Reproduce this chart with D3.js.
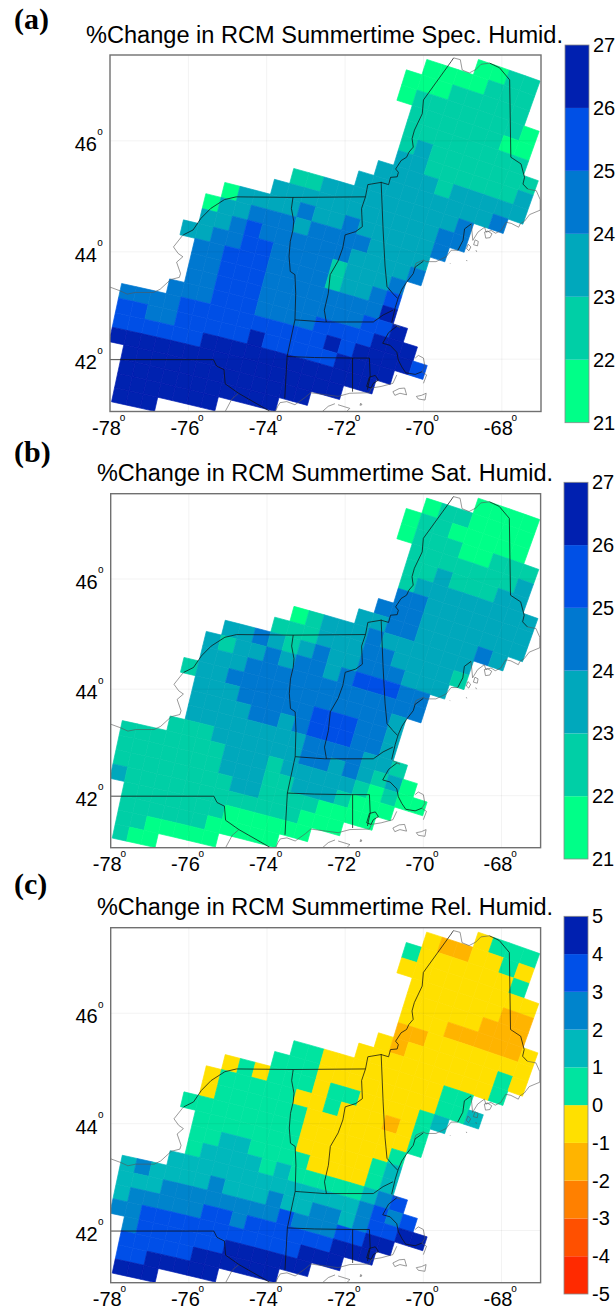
<!DOCTYPE html>
<html>
<head>
<meta charset="utf-8">
<script src="https://cdn.jsdelivr.net/npm/d3@7"></script>
<style>
  body { margin: 0; background: #fff; }
  text { font-family: "Liberation Sans", Arial, sans-serif; fill: #000; }
  .panel-label { font-family: "Liberation Serif", serif; font-weight: bold; font-size: 30px; }
  .domain { stroke: none; }
</style>
</head>
<body>
<svg id="chart" width="616" height="1312"></svg>
<script>
const lonTicks = [-78, -76, -74, -72, -70, -68];
const latTicks = [42, 44, 46];
const specBins = [21, 22, 23, 24, 25, 26, 27];
const relBins = [-5, -4, -3, -2, -1, 0, 1, 2, 3, 4, 5];
const specColors = ["#00ff88", "#00cfa6", "#00a8bc", "#0078d0", "#0050e6", "#0020b0"];
const relColors = ["#ff2a00", "#ff5000", "#ff8000", "#ffb400", "#ffe000", "#00e4a0", "#00b8bc", "#0084cc", "#0050e8", "#0020b0"];

// first grid column of each grid row, north to south
const rowStart = [18, 15, 14, 14, 15, 15, 15, 15, 14, 13, 9, 8, 5, 4, 4, 3, 4, 4, 4, 3, 0, 0, 0, 0, 1, 1, 1, 1];

// one digit per grid cell: index of the colour bin
const specHumid = [
  "0011", "0000111", "00011111", "011111110", "11111100", "11111111", "121111111", "221111112",
  "2222122222", "2222222223", "112222222223", "2222222222233", "022223223222223", "022333233332222",
  "223433333322223", "223344333312223", "33444333312234", "33444333333335", "334443333333445",
  "33344433334444555", "333344444444445455554", "4433444445444445555", "444444555555555555",
  "5555555555555555", "5555555555555", "55555555555", "5555555", "555"
];
const satHumid = [
  "0000", "0110000", "01100000", "011100111", "11111112", "11211122", "122222222", "332222222",
  "3332222222", "2233222232", "012223222222", "1112223322221", "223212322333222", "212232332344433",
  "222333333333333", "122333333333332", "22233333444332", "22223323444332", "222222223333221",
  "11122222233232120", "111111122212222210100", "1111111222112221000", "111111112211110000",
  "2111111111111000", "1111111000000", "11111100000", "1100000", "100"
];
const relHumid = [
  "4555", "4334454", "54444445", "444444444", "44444433", "44444333", "444333334", "334444444",
  "4344444454", "4444444445", "554444444455", "55544444444556", "454555455444456", "455555445444345",
  "455555544444445", "555555554444445", "55555554444456", "55665555444456", "566665655555678",
  "66666666666667878", "676666766676677678899", "6667777777787778899", "677777887888888999",
  "7788888888888999", "7888888999999", "88888999999", "8899999", "999"
];

// state borders and coastline as [lon, lat]
const stateLines = [
  [[-76.13, 44.31], [-75.88, 44.40], [-75.68, 44.61], [-75.43, 44.79], [-75.08, 44.95], [-74.78, 45.0], [-73.33, 44.99], [-71.48, 45.0], [-71.42, 45.22], [-71.08, 45.26], [-70.89, 45.22], [-70.84, 45.35], [-70.67, 45.36], [-70.64, 45.44], [-70.71, 45.5], [-70.57, 45.65], [-70.43, 45.71], [-70.37, 45.8], [-70.26, 45.89], [-70.29, 46.04], [-70.23, 46.19], [-70.03, 46.48], [-70.0, 46.72], [-69.29, 47.39], [-69.23, 47.45]],
  [[-68.31, 47.36], [-68.06, 47.28], [-67.8, 47.07], [-67.77, 45.71], [-67.51, 45.59], [-67.42, 45.35], [-67.46, 45.23], [-67.34, 45.14]],
  [[-73.33, 44.99], [-73.37, 44.79], [-73.31, 44.56], [-73.33, 44.4], [-73.4, 44.19], [-73.43, 43.92], [-73.4, 43.64], [-73.28, 43.58], [-73.26, 43.23], [-73.28, 42.74], [-73.48, 42.05], [-73.54, 41.25]],
  [[-73.28, 42.74], [-72.53, 42.7], [-71.28, 42.7], [-71.03, 42.83], [-70.78, 42.92]],
  [[-71.48, 45.0], [-71.58, 44.79], [-71.56, 44.46], [-71.73, 44.37], [-72.0, 44.31], [-72.06, 44.07], [-72.18, 43.83], [-72.38, 43.58], [-72.43, 43.23], [-72.53, 42.92], [-72.48, 42.7]],
  [[-71.08, 45.27], [-71.03, 44.4], [-70.98, 43.74], [-70.93, 43.36], [-70.78, 43.23], [-70.66, 43.14]],
  [[-73.48, 42.05], [-72.78, 42.03], [-71.83, 42.02], [-71.38, 42.02], [-71.36, 41.67], [-71.43, 41.42]],
  [[-71.81, 42.02], [-71.81, 41.38]],
  [[-78, 41.99], [-75.36, 41.99], [-75.28, 41.87], [-75.09, 41.8], [-75.06, 41.53], [-74.72, 41.35], [-73.91, 41.0]],
  [[-70.0, 43.83], [-70.21, 43.72], [-70.26, 43.6], [-70.43, 43.44], [-70.55, 43.31], [-70.64, 43.16], [-70.72, 42.97], [-70.81, 42.69]],
  [[-70.68, 42.62], [-70.89, 42.5], [-70.98, 42.38], [-71.04, 42.3], [-70.85, 42.26], [-70.68, 42.13], [-70.64, 41.98], [-70.55, 41.85], [-70.45, 41.74], [-70.21, 41.71], [-70.04, 41.76]],
  [[-71.45, 41.48], [-71.38, 41.66], [-71.23, 41.69], [-71.15, 41.6], [-71.28, 41.54], [-71.34, 41.45], [-71.45, 41.48]],
  [[-68.78, 44.51], [-68.95, 44.42], [-68.99, 44.21], [-69.12, 44.03]]
];
const coastLines = [
  [[-76.13, 44.31], [-76.17, 44.28], [-76.38, 44.09], [-76.26, 43.97], [-76.14, 43.91], [-76.3, 43.81], [-76.2, 43.6], [-76.23, 43.53], [-76.45, 43.49], [-76.72, 43.31], [-76.89, 43.25], [-77.36, 43.25], [-77.56, 43.22], [-77.74, 43.28], [-78, 43.35]],
  [[-69.23, 47.45], [-69.06, 47.42], [-69.01, 47.24], [-68.83, 47.19], [-68.66, 47.25], [-68.53, 47.34], [-68.31, 47.36]],
  [[-67.34, 45.14], [-67.12, 45.11], [-67.02, 44.95], [-67.02, 44.76], [-67.29, 44.68], [-67.42, 44.56], [-67.53, 44.51], [-67.57, 44.45], [-67.76, 44.52], [-67.89, 44.54], [-68.02, 44.39], [-68.16, 44.34], [-68.27, 44.39], [-68.4, 44.36], [-68.44, 44.45], [-68.61, 44.36], [-68.74, 44.21], [-68.78, 44.51]],
  [[-69.12, 44.03], [-69.29, 44.03], [-69.42, 43.91], [-69.68, 43.82], [-69.93, 43.82], [-70.0, 43.85], [-70.19, 43.79], [-70.23, 43.71]],
  [[-70.81, 42.69], [-70.77, 42.66], [-70.6, 42.6], [-70.68, 42.62]],
  [[-70.04, 41.76], [-69.96, 41.85], [-70.0, 42.02], [-70.13, 42.07], [-70.21, 42.02]],
  [[-70.04, 41.76], [-69.92, 41.7], [-70.0, 41.54]],
  [[-70.68, 41.7], [-70.78, 41.54], [-71.08, 41.48], [-71.33, 41.45], [-71.38, 41.36], [-71.88, 41.35], [-72.18, 41.29], [-72.88, 41.36], [-73.02, 41.27], [-73.28, 41.13], [-73.49, 41.19], [-73.66, 41.17], [-73.72, 41.1], [-73.78, 41.0]],
  [[-74.72, 41.35], [-74.89, 41.24], [-75.06, 41.0]],
  [[-70.78, 41.38], [-70.62, 41.44], [-70.48, 41.45], [-70.43, 41.32], [-70.6, 41.35], [-70.73, 41.31], [-70.78, 41.38]],
  [[-70.18, 41.29], [-70.05, 41.31], [-69.93, 41.35], [-69.96, 41.22], [-70.13, 41.24], [-70.18, 41.29]],
  [[-72.26, 41.15], [-72.43, 41.1], [-72.58, 41.0]],
  [[-72.18, 41.13], [-71.88, 41.06], [-71.96, 41.0]],
  [[-71.6, 41.16], [-71.57, 41.13], [-71.62, 41.12], [-71.6, 41.16]],
  [[-68.44, 44.36], [-68.36, 44.38], [-68.25, 44.33], [-68.3, 44.26], [-68.41, 44.25], [-68.44, 44.36]],
  [[-68.68, 44.22], [-68.6, 44.19], [-68.62, 44.11], [-68.72, 44.13], [-68.68, 44.22]],
  [[-68.86, 44.14], [-68.79, 44.09], [-68.84, 44.02], [-68.9, 44.06], [-68.86, 44.14]],
  [[-68.66, 44.03], [-68.64, 44.0]],
  [[-68.9, 43.85], [-68.89, 43.83]],
  [[-69.32, 43.79], [-69.31, 43.78]]
];

const panels = [
  { id: "a", label: "(a)", labelY: 29, title: "%Change in RCM Summertime Spec. Humid.", titleX: 86, titleY: 43, titleW: 477,
    frame: { x: [110, 541], y: [411.5, 55] }, bar: { x: 565, y: [422.7, 45] }, grid: specHumid, bins: specBins, colors: specColors },
  { id: "b", label: "(b)", labelY: 462, title: "%Change in RCM Summertime Sat. Humid.", titleX: 97, titleY: 480.5, titleW: 456,
    frame: { x: [110.7, 540.6], y: [847.7, 493.7] }, bar: { x: 564, y: [859, 482.3] }, grid: satHumid, bins: specBins, colors: specColors },
  { id: "c", label: "(c)", labelY: 894, title: "%Change in RCM Summertime Rel. Humid.", titleX: 97, titleY: 914.7, titleW: 456,
    frame: { x: [110.7, 540.6], y: [1282.7, 927.7] }, bar: { x: 564, y: [1294, 916.3] }, grid: relHumid, bins: relBins, colors: relColors }
];

const svg = d3.select("#chart");
const merc = lat => Math.log(Math.tan(Math.PI / 4 + (lat * Math.PI) / 360));

// soft edges, the cells in the source are not sharp
svg.append("filter").attr("id", "soft")
  .append("feGaussianBlur").attr("stdDeviation", 0.55);

// the model grid is a Lambert conformal one, cells in km
const lambert = d3.geoConicConformal().parallels([45, 45]).rotate([95, 0]).scale(6371).translate([0, 0]);
const gridOrigin = [1387, -6101];
const cellW = 31.46;
const cellH = 30.9;
const cellCorner = (col, row) => lambert.invert([gridOrigin[0] + col * cellW, gridOrigin[1] + row * cellH]);

const drawPanel = p => {
  const x = d3.scaleLinear().domain([-78, -67]).range(p.frame.x);
  const yMerc = d3.scaleLinear().domain([merc(41), merc(47.5)]).range(p.frame.y);
  const y = lat => yMerc(merc(lat));
  const toPx = ([lon, lat]) => [x(lon), y(lat)];
  const line = d3.line().x(d => x(d[0])).y(d => y(d[1]));

  const g = svg.append("g").attr("class", `panel-${p.id}`);
  const top = p.frame.y[1];
  const bottom = p.frame.y[0];

  g.append("clipPath").attr("id", `clip-${p.id}`)
    .append("rect")
    .attr("x", p.frame.x[0]).attr("y", top)
    .attr("width", p.frame.x[1] - p.frame.x[0]).attr("height", bottom - top);

  const map = g.append("g").attr("clip-path", `url(#clip-${p.id})`);

  const cells = p.grid.flatMap((codes, row) =>
    Array.from(codes, (code, k) => ({ row, col: rowStart[row] + k, bin: +code }))
  );

  map.append("g").attr("filter", "url(#soft)")
    .selectAll(".cell").data(cells).enter().append("polygon")
    .attr("class", "cell")
    .attr("points", d => [
      cellCorner(d.col, d.row), cellCorner(d.col + 1, d.row),
      cellCorner(d.col + 1, d.row + 1), cellCorner(d.col, d.row + 1)
    ].map(toPx).join(" "))
    .attr("fill", d => p.colors[d.bin])
    .attr("stroke", d => p.colors[d.bin])
    .attr("stroke-width", 0.7);

  map.selectAll(".lon-grid").data(lonTicks.slice(1)).enter().append("line")
    .attr("x1", d => x(d)).attr("x2", d => x(d)).attr("y1", top).attr("y2", bottom)
    .attr("stroke", "#000").attr("stroke-opacity", 0.05);
  map.selectAll(".lat-grid").data(latTicks).enter().append("line")
    .attr("y1", d => y(d)).attr("y2", d => y(d)).attr("x1", p.frame.x[0]).attr("x2", p.frame.x[1])
    .attr("stroke", "#000").attr("stroke-opacity", 0.05);

  map.selectAll(".coast").data(coastLines).enter().append("path")
    .attr("d", line).attr("fill", "none").attr("stroke", "#555").attr("stroke-width", 0.6);
  map.selectAll(".state").data(stateLines).enter().append("path")
    .attr("d", line).attr("fill", "none").attr("stroke", "#111").attr("stroke-width", 0.75);

  g.append("rect")
    .attr("x", p.frame.x[0]).attr("y", top)
    .attr("width", p.frame.x[1] - p.frame.x[0]).attr("height", bottom - top)
    .attr("fill", "none").attr("stroke", "#707070").attr("stroke-width", 1.4);

  // axes: the latitude one runs on mercator values, so it gets them as ticks
  const xAxis = g.append("g").attr("transform", `translate(0,${bottom})`)
    .call(d3.axisBottom(x).tickValues(lonTicks).tickSize(0).tickFormat(String));
  xAxis.selectAll("text").attr("x", -4).attr("y", 23.5).attr("dy", 0).attr("font-size", 20);
  xAxis.selectAll(".tick").append("text").text("o")
    .attr("x", 12).attr("y", 9).attr("text-anchor", "middle").attr("font-size", 10);

  const yAxis = g.append("g").attr("transform", `translate(${p.frame.x[0]},0)`)
    .call(d3.axisLeft(yMerc).tickValues(latTicks.map(merc)).tickSize(0).tickFormat((d, i) => latTicks[i]));
  yAxis.selectAll("text").attr("x", -13).attr("dy", 9.5).attr("font-size", 20);
  yAxis.selectAll(".tick").append("text").text("o")
    .attr("x", -10).attr("y", -6).attr("text-anchor", "middle").attr("font-size", 10);

  // colour bar
  const barY = d3.scaleLinear().domain(d3.extent(p.bins)).range(p.bar.y);
  const barW = 24;
  g.selectAll(".bin").data(p.colors).enter().append("rect")
    .attr("class", "bin")
    .attr("x", p.bar.x)
    .attr("y", (d, i) => barY(p.bins[i + 1]))
    .attr("width", barW)
    .attr("height", (d, i) => barY(p.bins[i]) - barY(p.bins[i + 1]))
    .attr("fill", d => d);
  g.append("rect")
    .attr("x", p.bar.x).attr("y", p.bar.y[1])
    .attr("width", barW).attr("height", p.bar.y[0] - p.bar.y[1])
    .attr("fill", "none").attr("stroke", "#8a8a8a").attr("stroke-width", 0.8);
  const barAxis = g.append("g").attr("transform", `translate(${p.bar.x + barW},0)`)
    .call(d3.axisRight(barY).tickValues(p.bins).tickSize(0).tickPadding(4).tickFormat(String));
  barAxis.selectAll("text").attr("font-size", 20);

  g.append("text").attr("class", "panel-label").attr("x", 14).attr("y", p.labelY).text(p.label);
  g.append("text")
    .attr("x", p.titleX).attr("y", p.titleY)
    .attr("font-size", 23)
    .attr("textLength", p.titleW).attr("lengthAdjust", "spacingAndGlyphs")
    .text(p.title);
};

panels.forEach(drawPanel);
</script>
</body>
</html>
